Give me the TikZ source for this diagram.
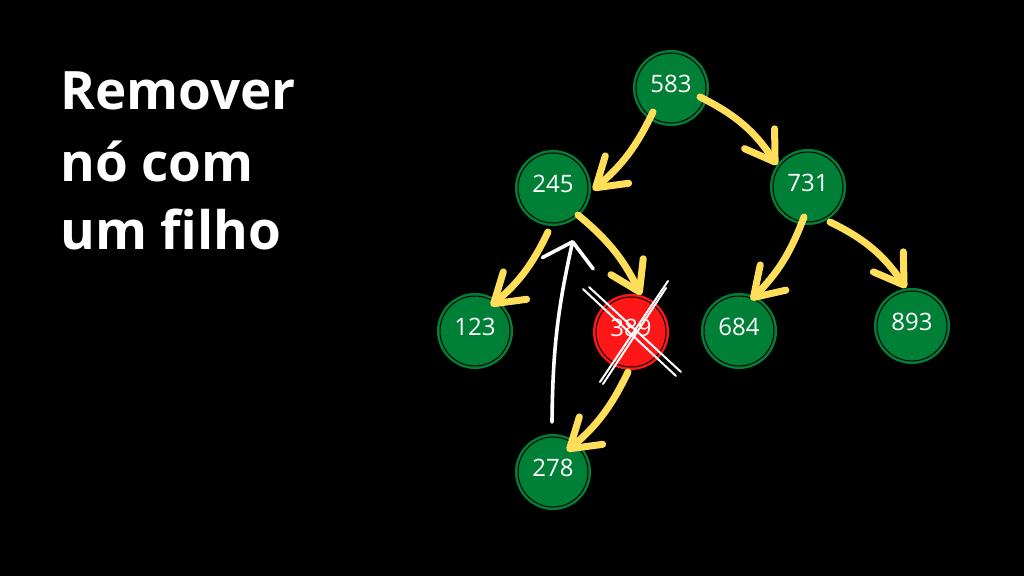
\documentclass[tikz,border=0pt]{standalone}
\usepackage{fontspec}
\setmainfont{Open Sans}
\usepackage{xcolor}
\definecolor{treegreen}{RGB}{0,128,55}
\definecolor{treered}{RGB}{255,22,22}
\definecolor{treeyellow}{RGB}{255,222,89}
\usetikzlibrary{arrows.meta}
\tikzset{
  title/.style   ={anchor=base west,inner sep=0pt,text=white,
                   font=\bfseries\fontsize{26.5}{30}\selectfont},
  treenode/.style={circle,fill=treegreen,draw=treegreen,double=black,double distance=0.5pt,
                   line width=1.25pt,minimum size=35pt,inner sep=0pt,text=white,
                   text depth=0.4em,font=\fontsize{12}{14}\selectfont},
  delnode/.style ={treenode,fill=treered,draw=treered},
  yarrow/.style  ={draw=treeyellow,line width=3.5pt,line cap=round,
                   -{Straight Barb[length=14pt,width=18pt,round]}},
  warrow/.style  ={draw=white,line width=1.8pt,line cap=round,
                   -{Straight Barb[length=11pt,width=26pt,round]}},
  xmark/.style   ={draw=white,line width=1pt,line cap=round},
}
\begin{document}
\begin{tikzpicture}[x=0.5pt,y=-0.5pt]
  \fill[black] (0,0) rectangle (1024,576);
  % title
  \node[title] (t1) at (60,110) {Remover};
  \node[title] (t2) at (60,182) {nó com};
  \node[title] (t3) at (60,250) {um filho};
  % tree
  \node[treenode] (n583) at (671,88) {583};
  \node[treenode] (n245) at (553,188) {245};
  \node[treenode] (n731) at (808,187) {731};
  \node[treenode] (n123) at (475,331) {123};
  \node[delnode]  (n389) at (631,332) {389};
  \node[treenode] (n684) at (739,331) {684};
  \node[treenode] (n893) at (912,326) {893};
  \node[treenode] (n278) at (553,472) {278};
  % links
  \draw[yarrow] ([shift={(-18,24)}]n583.center) to[bend left=12] ([shift={(40,2)}]n245.center);
  \draw[yarrow] ([shift={(29,9)}]n583.center) to[bend left=15] ([shift={(-31,-22)}]n731.center);
  \draw[yarrow] ([shift={(-5,44)}]n245.center) to[bend left=12] ([shift={(16,-25)}]n123.center);
  \draw[yarrow] ([shift={(25,27)}]n245.center) to[bend left=12] ([shift={(10,-37)}]n389.center);
  \draw[yarrow] ([shift={(-3,40)}]n389.center) to[bend left=12] ([shift={(14,-21)}]n278.center);
  \draw[yarrow] ([shift={(-4,30)}]n731.center) to[bend left=12] ([shift={(12,-31)}]n684.center);
  \draw[yarrow] ([shift={(22,35)}]n731.center) to[bend left=15] ([shift={(-6,-38)}]n893.center);
  % child moves up
  \coordinate (up0) at (552,422);
  \coordinate (up1) at (573,240);
  \draw[warrow] (up0) to[bend left=6] (up1);
  % cross on the removed node
  \draw[xmark] ([shift={(-48,-43)}]n389.center) -- ([shift={(45,44)}]n389.center);
  \draw[xmark] ([shift={(-42,-45)}]n389.center) -- ([shift={(50,40)}]n389.center);
  \draw[xmark] ([shift={(37,-51)}]n389.center) -- ([shift={(-31,50)}]n389.center);
  \draw[xmark] ([shift={(35,-44)}]n389.center) -- ([shift={(-28,52)}]n389.center);
\end{tikzpicture}
\end{document}
